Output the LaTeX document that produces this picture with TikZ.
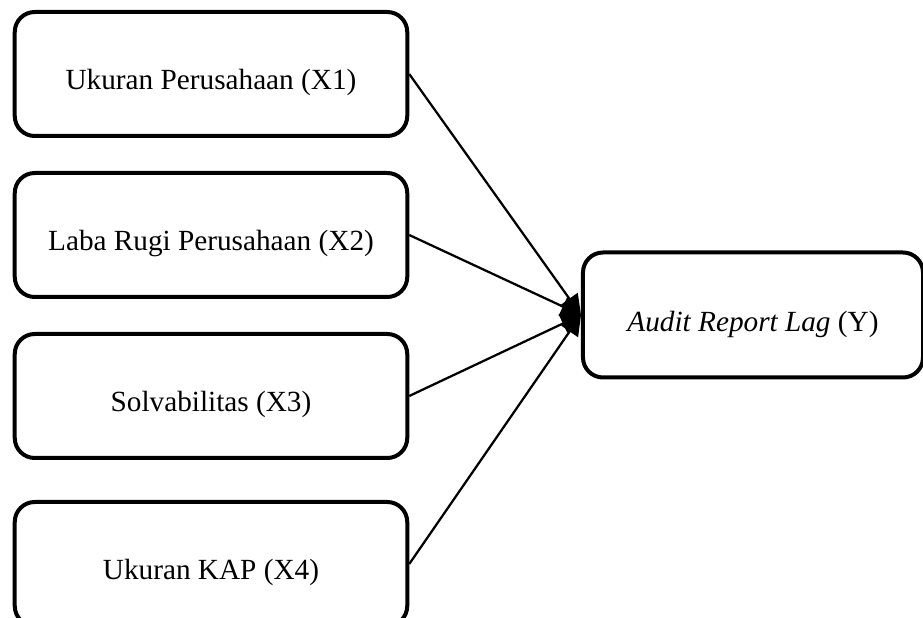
\documentclass[tikz,border=0pt]{standalone}
\usepackage{fontspec}
\setmainfont{Liberation Serif}
\usetikzlibrary{arrows.meta}
\begin{document}
\begin{tikzpicture}[x=0.4pt,y=-0.4pt,
  varbox/.style={draw=black, line width=1.6pt, rounded corners=8pt, fill=white,
    minimum width=157pt, minimum height=49.6pt, inner sep=0pt,
    text height=12.6pt, text depth=0pt, font=\fontsize{11.7}{14}\selectfont},
  conn/.style={line width=0.9pt, -{Triangle[length=8pt,width=8pt]}}]
\useasboundingbox (0,0) rectangle (923,618);
\node[varbox] (x1) at (211,74) {Ukuran Perusahaan (X1)};
\node[varbox] (x2) at (211,235) {Laba Rugi Perusahaan (X2)};
\node[varbox] (x3) at (211,396) {Solvabilitas (X3)};
\node[varbox] (x4) at (211,564) {Ukuran KAP (X4)};
\node[varbox, minimum width=136pt, minimum height=50pt, text height=13.4pt] (y) at (753,315) {\textit{Audit Report Lag} (Y)};
\draw[conn] (x1.east) -- (y.west);
\draw[conn] (x2.east) -- (y.west);
\draw[conn] (x3.east) -- (y.west);
\draw[conn] (x4.east) -- (y.west);
\end{tikzpicture}
\end{document}
